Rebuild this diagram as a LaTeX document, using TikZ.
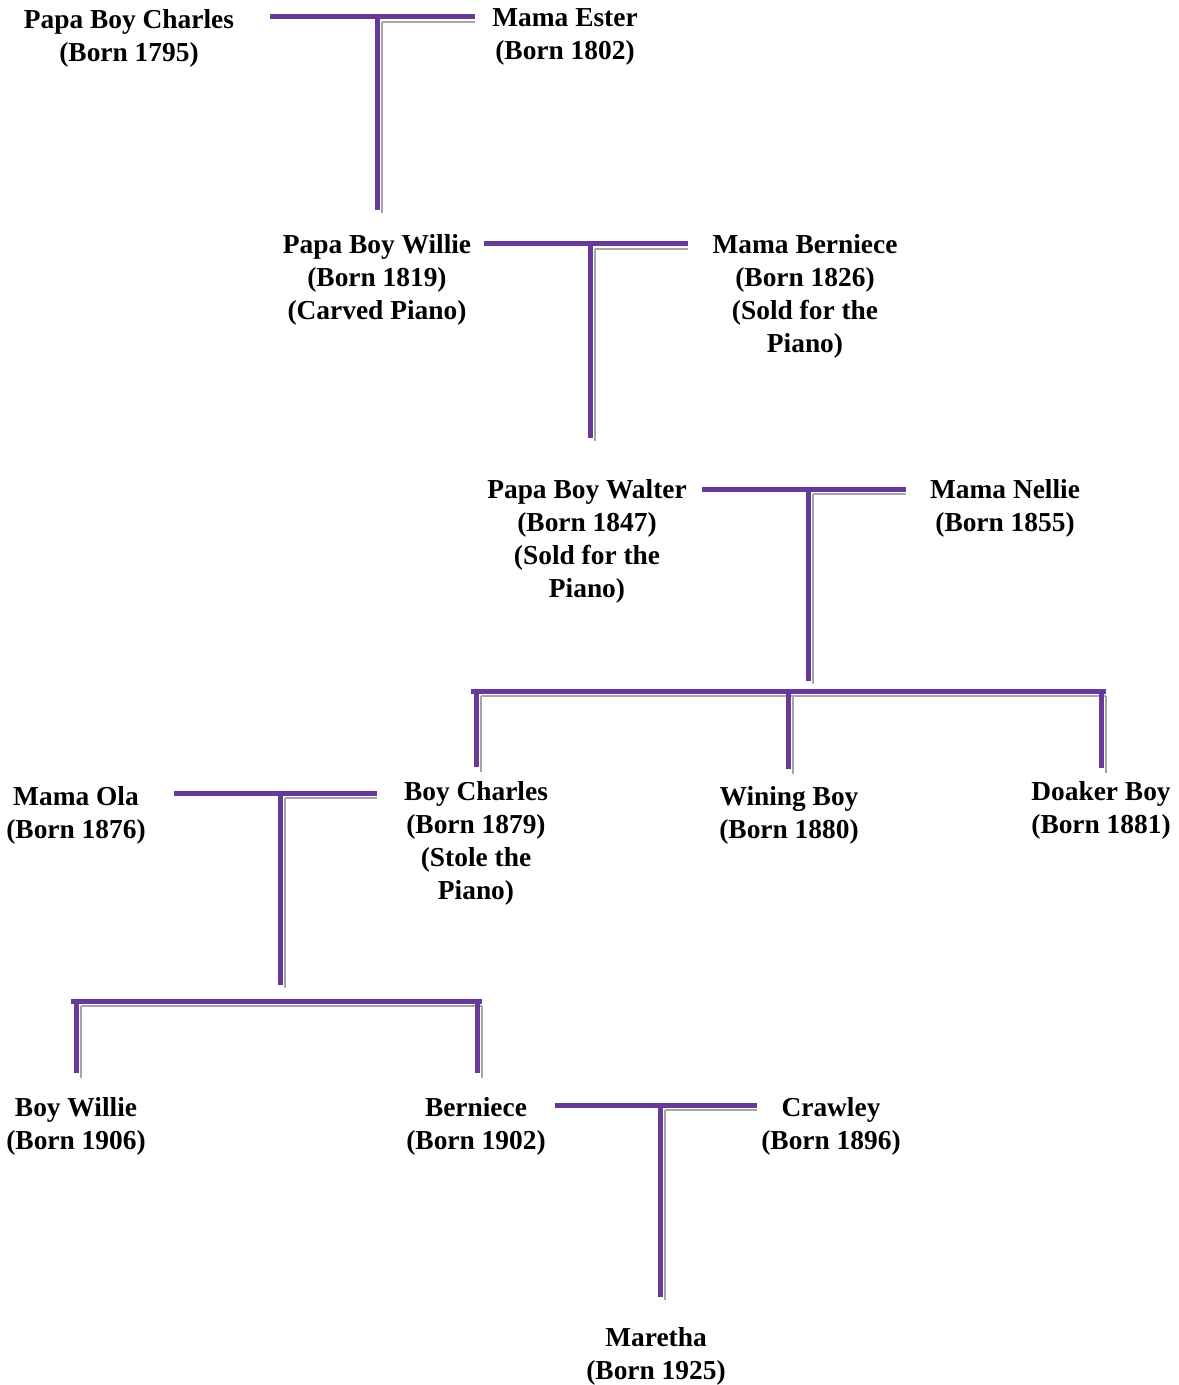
\documentclass[tikz,border=0pt]{standalone}
\usepackage{fontspec}
\setmainfont{Liberation Serif}
\usepackage{tikz}
\definecolor{famline}{RGB}{104,58,152}
\definecolor{famshade}{RGB}{165,165,165}

\begin{document}
\begin{tikzpicture}[x=.5pt,y=-.5pt,
  person/.style={anchor=north,yshift=9.2pt,align=center,inner sep=0pt,
    font=\fontsize{13.7}{16.5}\selectfont\bfseries},
  link/.style={famline,line width=2.5pt},
  shade/.style={famshade,line width=.6pt}]

  \useasboundingbox (0,0) rectangle (1178,1385);

  % people
  \node[person] (pbc) at (129,27)  {Papa Boy Charles\\(Born 1795)};
  \node[person] (mes) at (565,27)  {Mama Ester\\(Born 1802)};
  \node[person] (pbw) at (377,252) {Papa Boy Willie\\(Born 1819)\\(Carved Piano)};
  \node[person] (mbe) at (805,252) {Mama Berniece\\(Born 1826)\\(Sold for the\\Piano)};
  \node[person] (pbt) at (587,497) {Papa Boy Walter\\(Born 1847)\\(Sold for the\\Piano)};
  \node[person] (mne) at (1005,497) {Mama Nellie\\(Born 1855)};
  \node[person] (bch) at (476,799) {Boy Charles\\(Born 1879)\\(Stole the\\Piano)};
  \node[person] (wbo) at (789,804) {Wining Boy\\(Born 1880)};
  \node[person] (dbo) at (1101,799) {Doaker Boy\\(Born 1881)};
  \node[person] (mol) at (76,804)  {Mama Ola\\(Born 1876)};
  \node[person] (bwi) at (76,1115) {Boy Willie\\(Born 1906)};
  \node[person] (ber) at (476,1115) {Berniece\\(Born 1902)};
  \node[person] (cra) at (831,1115) {Crawley\\(Born 1896)};
  \node[person] (mar) at (656,1345) {Maretha\\(Born 1925)};

  % charles + ester
  \coordinate (m1l) at (270,17);
  \coordinate (m1r) at (475,17);
  \coordinate (m1)  at (377,17);
  \coordinate (m1b) at (377,210);
  \draw[shade] ([shift={(5,5)}]m1) -- (m1r |- {(0,22)});
  \draw[shade] ([shift={(5,5)}]m1) -- ([shift={(5,3)}]m1b);
  \draw[link] (m1l) -- (m1r);
  \draw[link] (m1) -- (m1b);

  % willie + berniece
  \coordinate (m2l) at (484,244);
  \coordinate (m2r) at (688,244);
  \coordinate (m2)  at (590,244);
  \coordinate (m2b) at (590,438);
  \draw[shade] ([shift={(5,5)}]m2) -- (m2r |- {(0,249)});
  \draw[shade] ([shift={(5,5)}]m2) -- ([shift={(5,3)}]m2b);
  \draw[link] (m2l) -- (m2r);
  \draw[link] (m2) -- (m2b);

  % walter + nellie
  \coordinate (m3l) at (702,489);
  \coordinate (m3r) at (906,489);
  \coordinate (m3)  at (808,489);
  \coordinate (m3b) at (808,681);
  \draw[shade] ([shift={(5,5)}]m3) -- (m3r |- {(0,494)});
  \draw[shade] ([shift={(5,5)}]m3) -- ([shift={(5,3)}]m3b);
  \draw[link] (m3l) -- (m3r);
  \draw[link] (m3) -- (m3b);

  % children of walter
  \coordinate (s1l) at (476,691);
  \coordinate (s1m) at (788,691);
  \coordinate (s1r) at (1101,691);
  \coordinate (s1lb) at (476,767);
  \coordinate (s1mb) at (788,769);
  \coordinate (s1rb) at (1101,768);
  \draw[shade] ([shift={(5,5)}]s1l) -- ([shift={(5,5)}]s1r);
  \draw[shade] ([shift={(5,5)}]s1l) -- ([shift={(5,5)}]s1lb);
  \draw[shade] ([shift={(5,5)}]s1m) -- ([shift={(5,5)}]s1mb);
  \draw[shade] ([shift={(5,5)}]s1r) -- ([shift={(5,5)}]s1rb);
  \draw[link] ([xshift=-2.5]s1l) -- ([xshift=2.5]s1r);
  \draw[link] (s1l) -- (s1lb);
  \draw[link] (s1m) -- (s1mb);
  \draw[link] (s1r) -- (s1rb);

  % ola + boy charles
  \coordinate (m4l) at (174,793);
  \coordinate (m4r) at (377,793);
  \coordinate (m4)  at (280,793);
  \coordinate (m4b) at (280,985);
  \draw[shade] ([shift={(5,5)}]m4) -- (m4r |- {(0,798)});
  \draw[shade] ([shift={(5,5)}]m4) -- ([shift={(5,3)}]m4b);
  \draw[link] (m4l) -- (m4r);
  \draw[link] (m4) -- (m4b);

  % children of boy charles
  \coordinate (s2l) at (76,1001);
  \coordinate (s2r) at (477,1001);
  \coordinate (s2lb) at (76,1073);
  \coordinate (s2rb) at (477,1073);
  \draw[shade] ([shift={(5,5)}]s2l) -- ([shift={(5,5)}]s2r);
  \draw[shade] ([shift={(5,5)}]s2l) -- ([shift={(5,5)}]s2lb);
  \draw[shade] ([shift={(5,5)}]s2r) -- ([shift={(5,5)}]s2rb);
  \draw[link] ([xshift=-2.5]s2l) -- ([xshift=2.5]s2r);
  \draw[link] (s2l) -- (s2lb);
  \draw[link] (s2r) -- (s2rb);

  % berniece + crawley
  \coordinate (m5l) at (555,1105);
  \coordinate (m5r) at (757,1105);
  \coordinate (m5)  at (660,1105);
  \coordinate (m5b) at (660,1297);
  \draw[shade] ([shift={(5,5)}]m5) -- (m5r |- {(0,1110)});
  \draw[shade] ([shift={(5,5)}]m5) -- ([shift={(5,3)}]m5b);
  \draw[link] (m5l) -- (m5r);
  \draw[link] (m5) -- (m5b);

\end{tikzpicture}
\end{document}
